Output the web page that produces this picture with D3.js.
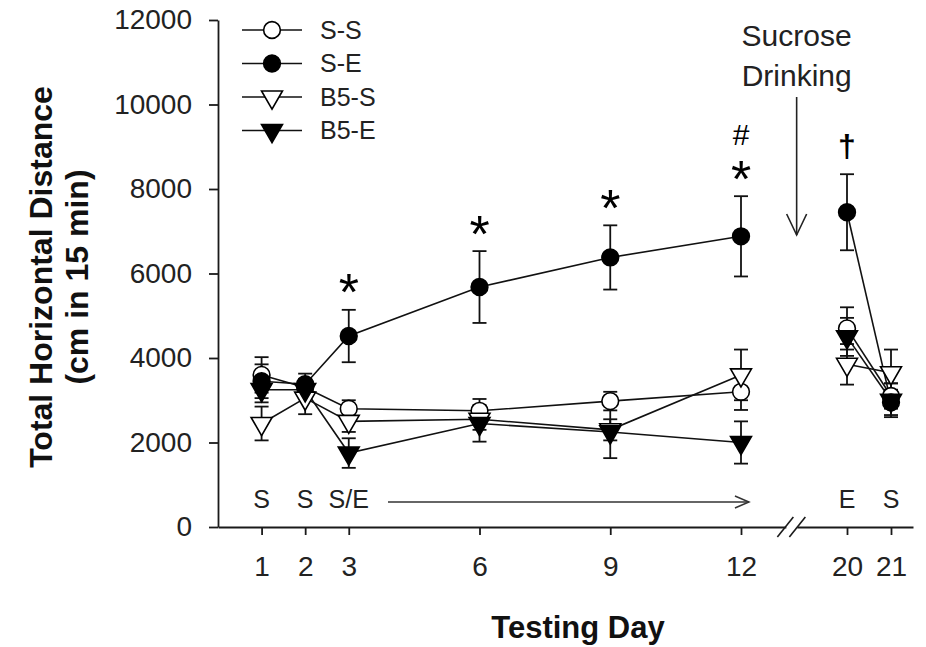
<!DOCTYPE html>
<html>
<head>
<meta charset="utf-8">
<script src="https://cdn.jsdelivr.net/npm/d3@7"></script>
<style>
    body { margin: 0; background: #fff; }
    svg { font-family: "Liberation Sans", Arial, sans-serif; }
</style>
</head>
<body>
<svg id="chart"></svg>
<script>
// testing days and group names
const days = [1, 2, 3, 6, 9, 12, 20, 21];
const groupNames = ['S-S', 'S-E', 'B5-S', 'B5-E'];

// means and SEM (cm in 15 min)
const ssMean = [3600, 3300, 2800, 2750, 2980, 3200, 4700, 3100];
const ssErr = [420, 200, 200, 280, 220, 430, 500, 300];
const seMean = [3450, 3380, 4520, 5680, 6380, 6880, 7450, 2950];
const seErr = [400, 250, 620, 850, 760, 950, 900, 300];
const b5sMean = [2450, 3050, 2500, 2550, 2300, 3600, 3850, 3650];
const b5sErr = [400, 380, 250, 250, 250, 600, 480, 550];
const b5eMean = [3250, 3250, 1750, 2450, 2250, 2000, 4500, 3000];
const b5eErr = [300, 200, 350, 430, 620, 500, 450, 400];

const yTicks = [0, 2000, 4000, 6000, 8000, 10000, 12000];

// phase labels under the curves
const phaseDays = [1, 2, 3, 20, 21];
const phaseLabels = ['S', 'S', 'S/E', 'E', 'S'];

// significance marks
const starDays = [3, 6, 9, 12];
const hashDays = [12];
const daggerDays = [20];

class LineChart {
    constructor(config, data) {
        this.config = {
            parent: config.parent,
            width: config.width || 926,
            height: config.height || 647,
            margin: config.margin || { top: 20, right: 13, bottom: 120, left: 218 },
            xlabel: config.xlabel || '',
            ylabel: config.ylabel || []
        };
        this.data = data;
        this.init();
    }

    init() {
        let self = this;

        self.svg = d3.select(self.config.parent)
            .attr('width', self.config.width)
            .attr('height', self.config.height);

        self.chart = self.svg.append('g')
            .attr('transform', `translate(${self.config.margin.left}, ${self.config.margin.top})`);

        self.inner_width = self.config.width - self.config.margin.left - self.config.margin.right;
        self.inner_height = self.config.height - self.config.margin.top - self.config.margin.bottom;

        // broken axis: days 12 -> 20 squeezed
        self.xscale = d3.scaleLinear()
            .domain([0, 12, 20, 21.5])
            .range([0, 523, 629, self.inner_width]);

        self.yscale = d3.scaleLinear()
            .domain([0, 12000])
            .range([self.inner_height, 0]);

        self.xaxis = d3.axisBottom(self.xscale)
            .tickValues(days)
            .tickFormat(d3.format('d'))
            .tickSize(8)
            .tickPadding(21)
            .tickSizeOuter(0);

        self.yaxis = d3.axisLeft(self.yscale)
            .tickValues(yTicks)
            .tickFormat(d3.format('d'))
            .tickSize(9)
            .tickPadding(17)
            .tickSizeOuter(0);

        self.xaxis_group = self.chart.append('g')
            .attr('transform', `translate(0, ${self.inner_height})`);

        self.yaxis_group = self.chart.append('g');

        self.svg.append('text')
            .style('font-size', '31px')
            .style('font-weight', 'bold')
            .attr('fill', '#111')
            .attr('x', 578)
            .attr('y', 638)
            .attr('text-anchor', 'middle')
            .text(self.config.xlabel);

        self.config.ylabel.forEach((t, i) => {
            self.svg.append('text')
                .style('font-size', '32px')
                .style('font-weight', 'bold')
                .attr('fill', '#111')
                .attr('transform', `translate(${41 + i * 36}, 277) rotate(-90)`)
                .attr('text-anchor', 'middle')
                .attr('dy', '0.35em')
                .text(t);
        });
    }

    update() {
        let self = this;
        self.pre = d => d.day <= 12;
        self.post = d => d.day >= 20;
        self.render();
    }

    render() {
        let self = this;

        self.xaxis_group.call(self.xaxis);
        self.yaxis_group.call(self.yaxis);

        [self.xaxis_group, self.yaxis_group].forEach(g => {
            g.attr('font-size', 28)
                .attr('font-family', '"Liberation Sans", Arial, sans-serif');
            g.selectAll('path, line')
                .attr('stroke', '#1a1a1a')
                .attr('stroke-width', 1.8);
            g.selectAll('text').attr('fill', '#222');
        });

        // axis break
        const bx = self.xscale(15.8);
        const by = self.inner_height;
        self.chart.append('rect')
            .attr('x', bx - 5)
            .attr('y', by - 4)
            .attr('width', 11)
            .attr('height', 8)
            .attr('fill', '#fff');
        [-6, 6].forEach(o => {
            self.chart.append('line')
                .attr('x1', bx + o - 8).attr('y1', by + 10)
                .attr('x2', bx + o + 8).attr('y2', by - 10)
                .attr('stroke', '#1a1a1a')
                .attr('stroke-width', 1.6);
        });

        const line = d3.line()
            .x(d => self.xscale(d.day))
            .y(d => self.yscale(d.mean));

        // connecting lines, not across the break
        self.data.forEach(s => {
            [s.points.filter(self.pre), s.points.filter(self.post)].forEach(seg => {
                self.chart.append('path')
                    .datum(seg)
                    .attr('fill', 'none')
                    .attr('stroke', '#111')
                    .attr('stroke-width', 1.6)
                    .attr('d', line);
            });
        });

        // error bars
        self.data.forEach(s => {
            const g = self.chart.append('g')
                .attr('stroke', '#111')
                .attr('stroke-width', 1.8);
            g.selectAll('line.v')
                .data(s.points)
                .join('line')
                .attr('x1', d => self.xscale(d.day))
                .attr('x2', d => self.xscale(d.day))
                .attr('y1', d => self.yscale(d.mean - d.err))
                .attr('y2', d => self.yscale(d.mean + d.err));
            [-1, 1].forEach(sign => {
                g.selectAll(null)
                    .data(s.points)
                    .join('line')
                    .attr('x1', d => self.xscale(d.day) - 7)
                    .attr('x2', d => self.xscale(d.day) + 7)
                    .attr('y1', d => self.yscale(d.mean + sign * d.err))
                    .attr('y2', d => self.yscale(d.mean + sign * d.err));
            });
        });

        // markers
        self.data.forEach(s => {
            self.chart.selectAll(null)
                .data(s.points)
                .join('path')
                .attr('d', self.symbol(s.style.shape))
                .attr('transform', d => `translate(${self.xscale(d.day)}, ${self.yscale(d.mean)})` +
                    (s.style.shape === 'triangle' ? ' rotate(180)' : ''))
                .attr('fill', s.style.filled ? '#000' : '#fff')
                .attr('stroke', '#000')
                .attr('stroke-width', 1.6);
        });

        // significance marks above S-E
        const se = self.data[1].points;
        const seAt = day => se.find(d => d.day === day);

        self.chart.selectAll('text.star')
            .data(starDays)
            .join('text')
            .attr('x', d => self.xscale(d))
            .attr('y', d => self.yscale(seAt(d).mean + seAt(d).err) - 29)
            .attr('text-anchor', 'middle')
            .style('font-size', '52px')
            .attr('dy', '0.57em')
            .text('*');

        self.chart.selectAll('text.hash')
            .data(hashDays)
            .join('text')
            .attr('x', d => self.xscale(d))
            .attr('y', 125)
            .attr('text-anchor', 'middle')
            .style('font-size', '30px')
            .text('#');

        self.chart.selectAll('text.dagger')
            .data(daggerDays)
            .join('text')
            .attr('x', d => self.xscale(d))
            .attr('y', 137)
            .attr('text-anchor', 'middle')
            .style('font-size', '32px')
            .style('font-weight', 'bold')
            .text('\u2020');

        // phase labels and arrow
        self.chart.selectAll('text.phase')
            .data(phaseDays)
            .join('text')
            .attr('x', d => self.xscale(d))
            .attr('y', 479)
            .attr('dy', '0.35em')
            .attr('text-anchor', 'middle')
            .attr('fill', '#222')
            .style('font-size', '25px')
            .text((d, i) => phaseLabels[i]);

        const ax0 = self.xscale(3.9), ax1 = self.xscale(12.6), ay = 482;
        const arrow = self.chart.append('g')
            .attr('stroke', '#333')
            .attr('stroke-width', 1.5)
            .attr('fill', 'none');
        arrow.append('line').attr('x1', ax0).attr('y1', ay).attr('x2', ax1).attr('y2', ay);
        arrow.append('path').attr('d', `M${ax1 - 14},${ay - 6}L${ax1},${ay}L${ax1 - 14},${ay + 6}`);

        // sucrose drinking note
        const sx = self.xscale(16.2);
        self.chart.append('text')
            .attr('x', sx).attr('y', 15).attr('dy', '0.35em')
            .attr('text-anchor', 'middle')
            .attr('fill', '#222')
            .style('font-size', '30px')
            .text('Sucrose');
        self.chart.append('text')
            .attr('x', sx).attr('y', 55).attr('dy', '0.35em')
            .attr('text-anchor', 'middle')
            .attr('fill', '#222')
            .style('font-size', '30px')
            .text('Drinking');
        const down = self.chart.append('g')
            .attr('stroke', '#222')
            .attr('stroke-width', 1.6)
            .attr('fill', 'none');
        down.append('line').attr('x1', sx).attr('y1', 77).attr('x2', sx).attr('y2', 215);
        down.append('path').attr('d', `M${sx - 10},${194}L${sx},${215}L${sx + 10},${194}`);

        // legend
        const legend = self.svg.append('g');
        self.data.forEach((s, i) => {
            const ly = 30 + i * 33.5;
            legend.append('line')
                .attr('x1', 242).attr('x2', 302)
                .attr('y1', ly).attr('y2', ly)
                .attr('stroke', '#111')
                .attr('stroke-width', 1.6);
            legend.append('path')
                .attr('d', self.symbol(s.style.shape))
                .attr('transform', `translate(272, ${ly})` + (s.style.shape === 'triangle' ? ' rotate(180)' : ''))
                .attr('fill', s.style.filled ? '#000' : '#fff')
                .attr('stroke', '#000')
                .attr('stroke-width', 1.6);
            legend.append('text')
                .attr('x', 320).attr('y', ly).attr('dy', '0.35em')
                .attr('fill', '#222')
                .style('font-size', '25px')
                .text(s.name);
        });
    }

    symbol(shape) {
        return d3.symbol()
            .type(shape === 'circle' ? d3.symbolCircle : d3.symbolTriangle)
            .size(shape === 'circle' ? 220 : 190)();
    }
}

const means = [ssMean, seMean, b5sMean, b5eMean];
const errs = [ssErr, seErr, b5sErr, b5eErr];
const styles = [
    { shape: 'circle', filled: false },
    { shape: 'circle', filled: true },
    { shape: 'triangle', filled: false },
    { shape: 'triangle', filled: true }
];

const data = groupNames.map((name, i) => ({
    name: name,
    style: styles[i],
    points: days.map((day, j) => ({ day: day, mean: means[i][j], err: errs[i][j] }))
}));

const chart = new LineChart({
    parent: '#chart',
    width: 926,
    height: 647,
    xlabel: 'Testing Day',
    ylabel: ['Total Horizontal Distance', '(cm in 15 min)']
}, data);
chart.update();
</script>
</body>
</html>
